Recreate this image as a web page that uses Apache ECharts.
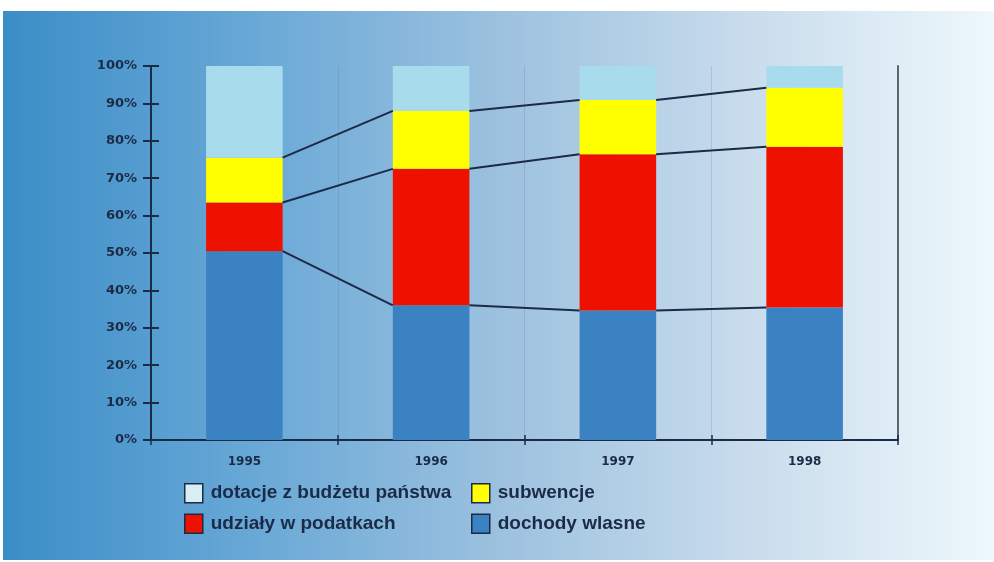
<!DOCTYPE html>
<html>
<head>
<meta charset="utf-8">
<script src="https://cdn.jsdelivr.net/npm/echarts@6/dist/echarts.min.js"></script>
<style>
  html, body { margin: 0; padding: 0; background: #fff; }
  #chart { width: 994px; height: 562px; }
</style>
</head>
<body>
<div id="chart"></div>
<script>
// data (percent of total)
const categories = ['1995', '1996', '1997', '1998'];
const dochodyWlasne = [50.5, 36.0, 34.6, 35.4];
const udzialy = [13.0, 36.5, 41.8, 43.0];
const subwencje = [12.0, 15.5, 14.5, 15.8];
const dotacje = [24.5, 12.0, 9.1, 5.8];
const yMin = 0, yMax = 100, yStep = 10;

const ink = '#1b2a46';
const barRatio = 0.41;

// cumulative tops for the connector lines (blue, red, yellow tops)
const layers = [dochodyWlasne, udzialy, subwencje];
const connectors = [];
let run = categories.map(() => 0);
layers.forEach(arr => {
  run = run.map((v, i) => v + arr[i]);
  for (let i = 0; i < categories.length - 1; i++) {
    connectors.push([i, run[i], i + 1, run[i + 1]]);
  }
});

var myChart = echarts.init(document.getElementById('chart'));

var legendText = { color: ink, fontSize: 19, fontWeight: 'bold', fontFamily: 'Liberation Sans, Arial', padding: [0, 0, 0, 3] };

var option = {
  backgroundColor: '#fff',
  animation: false,
  graphic: [{
    type: 'rect',
    left: 3, top: 11, z: -10,
    shape: { width: 991, height: 549 },
    style: {
      fill: new echarts.graphic.LinearGradient(0, 0, 1, 0, [
        { offset: 0, color: '#3b8dc7' },
        { offset: 0.25, color: '#68a8d6' },
        { offset: 0.5, color: '#9cc1df' },
        { offset: 0.75, color: '#c8dcec' },
        { offset: 1, color: '#eef8fc' }
      ])
    }
  }],
  grid: { left: 151, right: 96, top: 66, bottom: 122, containLabel: false },
  legend: [
    {
      orient: 'vertical', left: 179, top: 478, icon: 'rect',
      itemWidth: 18, itemHeight: 19, itemGap: 10,
      textStyle: legendText,
      data: [
        { name: 'dotacje z budżetu państwa', itemStyle: { color: '#d6eef4', borderColor: ink, borderWidth: 1.5 } },
        { name: 'udziały w podatkach', itemStyle: { color: '#ee1100', borderColor: ink, borderWidth: 1.5 } }
      ]
    },
    {
      orient: 'vertical', left: 466, top: 478, icon: 'rect',
      itemWidth: 18, itemHeight: 19, itemGap: 10,
      textStyle: legendText,
      data: [
        { name: 'subwencje', itemStyle: { color: '#ffff00', borderColor: ink, borderWidth: 1.5 } },
        { name: 'dochody wlasne', itemStyle: { color: '#3a82c2', borderColor: ink, borderWidth: 1.5 } }
      ]
    }
  ],
  xAxis: [
    {
      type: 'category',
      data: categories,
      position: 'bottom',
      axisLine: { lineStyle: { color: ink, width: 2 } },
      axisTick: { show: true, length: 5, lineStyle: { color: ink, width: 1.5 } },
      axisLabel: { color: ink, fontSize: 12, fontWeight: 'bold', fontFamily: 'DejaVu Sans', margin: 16 },
      splitLine: { show: true, lineStyle: { color: 'rgba(90,110,135,0.22)', width: 1 } }
    },
    {
      type: 'category',
      data: categories,
      position: 'bottom',
      offset: 0,
      axisLine: { show: false },
      axisTick: { show: true, inside: true, length: 5, lineStyle: { color: ink, width: 1.5 } },
      axisLabel: { show: false },
      splitLine: { show: false }
    }
  ],
  yAxis: [
    {
      type: 'value',
      min: yMin, max: yMax, interval: yStep,
      position: 'left',
      axisLine: { show: true, lineStyle: { color: ink, width: 2 } },
      axisTick: { show: true, length: 8, lineStyle: { color: ink, width: 2 } },
      axisLabel: { color: ink, fontSize: 13, fontWeight: 'bold', fontFamily: 'DejaVu Sans', margin: 14, formatter: '{value}%' },
      splitLine: { show: false }
    },
    {
      type: 'value',
      min: yMin, max: yMax, interval: yStep,
      position: 'left',
      offset: 0,
      axisLine: { show: false },
      axisTick: { show: true, inside: true, length: 8, lineStyle: { color: ink, width: 2 } },
      axisLabel: { show: false },
      splitLine: { show: false }
    },
    {
      type: 'value',
      min: yMin, max: yMax, interval: yStep,
      position: 'right',
      axisLine: { show: true, lineStyle: { color: '#5b6572', width: 2 } },
      axisTick: { show: false },
      axisLabel: { show: false },
      splitLine: { show: false }
    }
  ],
  series: [
    {
      name: 'dochody wlasne', type: 'bar', stack: 'total', barWidth: (barRatio * 100) + '%',
      itemStyle: { color: '#3a82c2' }, data: dochodyWlasne
    },
    {
      name: 'udziały w podatkach', type: 'bar', stack: 'total',
      itemStyle: { color: '#ee1100' }, data: udzialy
    },
    {
      name: 'subwencje', type: 'bar', stack: 'total',
      itemStyle: { color: '#ffff00' }, data: subwencje
    },
    {
      name: 'dotacje z budżetu państwa', type: 'bar', stack: 'total',
      itemStyle: { color: '#a8dcec' }, data: dotacje
    },
    {
      name: 'connectors', type: 'custom', z: 5, silent: true,
      encode: { x: [0, 2], y: [1, 3] },
      data: connectors,
      renderItem: function (params, api) {
        var p1 = api.coord([api.value(0), api.value(1)]);
        var p2 = api.coord([api.value(2), api.value(3)]);
        var half = api.size([1, 0])[0] * barRatio / 2;
        return {
          type: 'line',
          shape: { x1: p1[0] + half, y1: p1[1], x2: p2[0] - half, y2: p2[1] },
          style: { stroke: ink, lineWidth: 2 }
        };
      }
    }
  ]
};

option && myChart.setOption(option);
</script>
</body>
</html>
